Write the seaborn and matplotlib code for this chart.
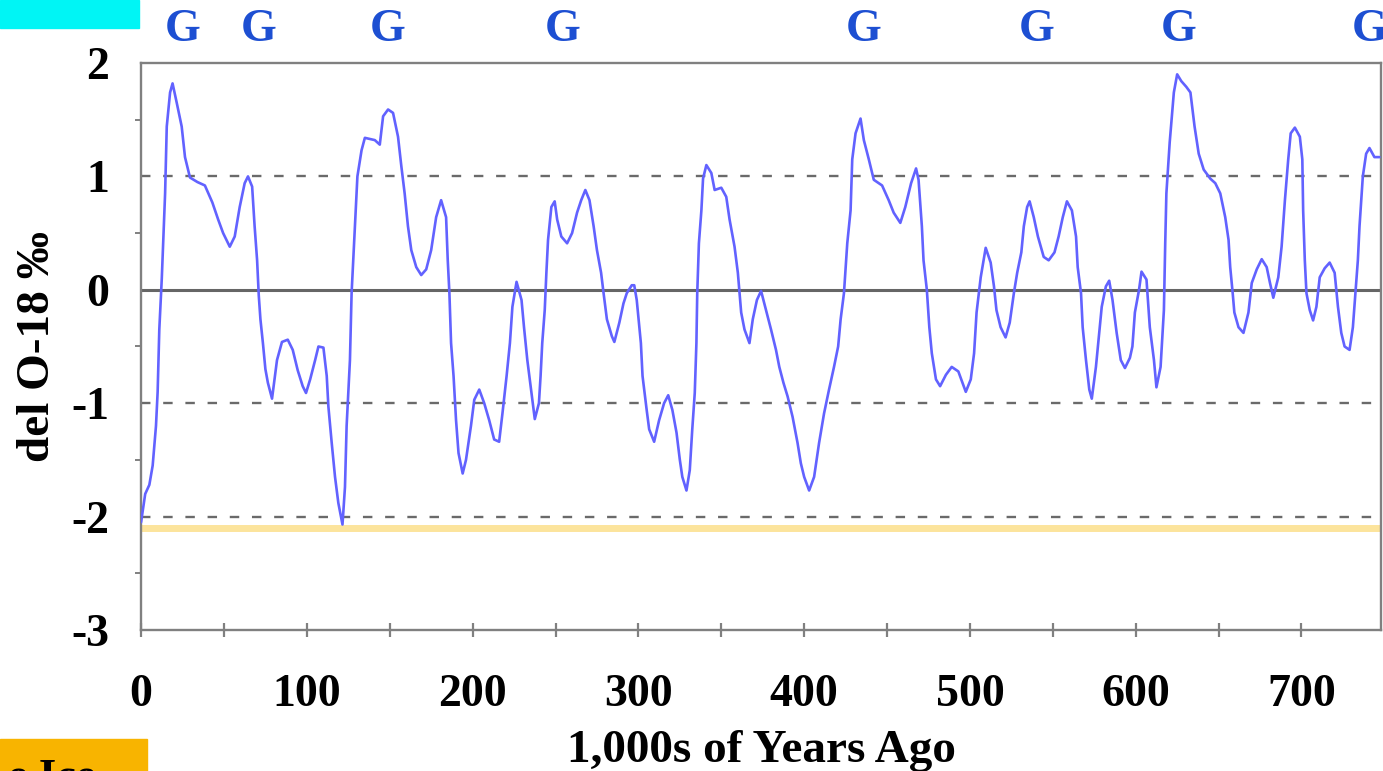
import matplotlib
matplotlib.use("Agg")
import matplotlib.pyplot as plt
import seaborn as sns
import pandas as pd
from matplotlib.patches import Rectangle
from matplotlib.ticker import MultipleLocator, FixedLocator
import matplotlib.transforms as mtransforms

# Datos (miles de años, del O-18)
edad_kyr = [
    0, 2.5, 5, 7, 9, 10, 11, 12.5, 14.5, 15.5, 17.5, 19, 21.5, 24.5, 26.5, 29.5,
    34, 38.5, 43, 46.5, 49.5, 53.5, 56.5, 59.5, 62.5, 64.5, 67, 68.5, 70, 71,
    72, 73.5, 75, 76.5, 79, 82, 85, 88.5, 91.5, 94.5, 97.5, 99.5, 102, 105,
    107, 110, 112, 113, 115, 117, 119, 121.5, 123, 124, 126, 127, 129, 130.5,
    133, 135, 138, 141, 144, 146, 149, 152, 155, 157, 159, 161, 163, 166, 169,
    172, 175, 178, 181, 184, 185, 186, 187, 188.5, 190, 191.5, 194, 196, 199,
    201, 204, 207, 210, 213, 216, 218, 220.5, 222.5, 224, 226.5, 229.5, 231,
    233, 235.5, 237.5, 240, 241, 242, 243.5, 244.5, 245.5, 247.5, 249.5, 251,
    253.5, 257, 260, 263, 265.5, 268, 270.5, 273, 275, 277.5, 279, 281, 284,
    285.5, 288.5, 291, 293, 296, 297.5, 299, 301.5, 302.5, 305, 306.5, 309.5,
    312.5, 315.5, 318, 320.5, 323, 325, 326.5, 329, 331, 332.5, 334, 335,
    335.5, 336.5, 338, 339, 341, 344, 346, 350, 353, 355, 358, 360, 361, 362,
    364, 367, 369, 371.5, 374, 377, 380, 383, 385, 387.5, 390, 393, 396, 398,
    400, 403, 406, 409, 412, 415, 418, 420.5, 422, 424, 426, 428, 429, 431,
    434, 436, 439, 442, 447, 451, 454, 458, 461, 464.5, 467.5, 469, 471, 472,
    474, 475.5, 477, 479.5, 482, 485.5, 489, 493, 497.5, 500.5, 502.5, 504,
    506.5, 509.5, 512.5, 514.5, 516, 518.5, 521.5, 524, 526.5, 528.5, 531,
    532.5, 534.5, 536, 538.5, 541, 544.5, 547.5, 551, 553.5, 556, 558.5,
    561.5, 564, 565, 567, 568, 570, 572, 573.5, 576, 578, 579.5, 582, 584,
    586, 588.5, 591, 593.5, 596.5, 598, 599.5, 602, 603.5, 606.5, 608.5, 611,
    612.5, 615, 617, 617.8, 618.5, 620.5, 623, 625, 627.5, 630.5, 633, 635.5,
    638, 641, 645, 648, 651, 654, 656, 657, 658.5, 659.5, 662, 665, 668, 670,
    673, 676, 679, 681, 683, 686, 688, 690, 692, 693.5, 696, 699, 700.5, 701,
    702, 703, 705, 707, 709, 711, 714, 717, 720, 722, 724, 726, 729, 731,
    732.5, 734, 735, 737, 739, 741, 744, 747,
]
del_o18 = [
    -2.05, -1.8, -1.72, -1.55, -1.2, -0.9, -0.35, 0.1, 0.85, 1.44, 1.74, 1.82,
    1.65, 1.44, 1.17, 0.99, 0.95, 0.92, 0.77, 0.62, 0.5, 0.38, 0.47, 0.73,
    0.94, 1.0, 0.91, 0.56, 0.26, -0.05, -0.26, -0.47, -0.7, -0.82, -0.96,
    -0.62, -0.46, -0.44, -0.53, -0.71, -0.85, -0.91, -0.79, -0.62, -0.5,
    -0.51, -0.76, -1.03, -1.35, -1.65, -1.88, -2.07, -1.74, -1.2, -0.62,
    -0.03, 0.56, 1.0, 1.23, 1.34, 1.33, 1.32, 1.28, 1.53, 1.59, 1.56, 1.35,
    1.09, 0.85, 0.56, 0.35, 0.2, 0.13, 0.18, 0.35, 0.64, 0.79, 0.64, 0.26,
    -0.03, -0.47, -0.76, -1.15, -1.44, -1.62, -1.5, -1.2, -0.97, -0.88, -1.0,
    -1.15, -1.32, -1.34, -1.09, -0.76, -0.47, -0.15, 0.07, -0.09, -0.33,
    -0.62, -0.91, -1.14, -1.0, -0.76, -0.47, -0.18, 0.15, 0.44, 0.73, 0.78,
    0.62, 0.47, 0.41, 0.5, 0.68, 0.79, 0.88, 0.79, 0.56, 0.35, 0.15, -0.03,
    -0.26, -0.41, -0.46, -0.29, -0.12, -0.03, 0.04, 0.04, -0.09, -0.47,
    -0.76, -1.06, -1.23, -1.34, -1.15, -1.0, -0.93, -1.06, -1.26, -1.5,
    -1.65, -1.77, -1.59, -1.23, -0.91, -0.47, -0.03, 0.41, 0.7, 0.98, 1.1,
    1.03, 0.88, 0.9, 0.82, 0.62, 0.38, 0.15, -0.03, -0.2, -0.35, -0.47,
    -0.26, -0.09, -0.01, -0.18, -0.35, -0.53, -0.68, -0.82, -0.94, -1.12,
    -1.35, -1.53, -1.65, -1.77, -1.65, -1.35, -1.09, -0.88, -0.68, -0.5,
    -0.26, -0.03, 0.41, 0.7, 1.15, 1.38, 1.51, 1.32, 1.15, 0.97, 0.92, 0.79,
    0.68, 0.59, 0.73, 0.94, 1.07, 0.97, 0.56, 0.26, 0.0, -0.33, -0.56, -0.79,
    -0.85, -0.75, -0.68, -0.72, -0.9, -0.79, -0.56, -0.2, 0.11, 0.37, 0.24,
    0.03, -0.18, -0.33, -0.42, -0.29, -0.03, 0.15, 0.33, 0.56, 0.73, 0.78,
    0.64, 0.47, 0.29, 0.26, 0.33, 0.47, 0.64, 0.78, 0.7, 0.47, 0.2, -0.03,
    -0.33, -0.62, -0.88, -0.96, -0.68, -0.38, -0.15, 0.03, 0.08, -0.09,
    -0.38, -0.62, -0.69, -0.6, -0.5, -0.2, 0.0, 0.16, 0.09, -0.33, -0.62,
    -0.86, -0.68, -0.18, 0.41, 0.85, 1.3, 1.74, 1.9, 1.84, 1.79, 1.74, 1.44,
    1.2, 1.06, 0.98, 0.94, 0.85, 0.64, 0.44, 0.2, -0.03, -0.2, -0.33, -0.38,
    -0.2, 0.06, 0.18, 0.27, 0.2, 0.06, -0.07, 0.11, 0.38, 0.79, 1.15, 1.38,
    1.43, 1.35, 1.15, 0.7, 0.26, -0.03, -0.18, -0.27, -0.15, 0.11, 0.19,
    0.24, 0.15, -0.15, -0.38, -0.5, -0.53, -0.33, -0.03, 0.26, 0.56, 1.0,
    1.2, 1.25, 1.17, 1.17,
]

# Marcas "G" encima del grafico (miles de años)
g_edades = [25, 71, 149, 254, 436, 540, 626, 741]

y_ticks = [2, 1, 0, -1, -2, -3]
y_discontinuas = [1, -1, -2]
x_ticks = [0, 100, 200, 300, 400, 500, 600, 700]
linea_amarilla = -2.1

df = pd.DataFrame({"edad": edad_kyr, "o18": del_o18})

sns.set_style("white")
plt.rcParams["font.family"] = ["Liberation Serif", "DejaVu Serif"]
plt.rcParams["font.weight"] = "bold"
plt.rcParams["text.color"] = "black"
plt.rcParams["axes.labelcolor"] = "black"
plt.rcParams["xtick.labelcolor"] = "black"
plt.rcParams["ytick.labelcolor"] = "black"

fig = plt.figure(figsize=(13.83, 7.71), dpi=100)
ax = fig.add_axes([0.102, 0.1829, 0.8966, 0.7354])

ax.axhline(linea_amarilla, color="#fce49c", lw=5, zorder=1)
for v in y_discontinuas:
    ax.axhline(v, color="#6a6a6a", lw=1.7, linestyle=(0, (4, 5.4)), zorder=2)
ax.axhline(0, color="#666666", lw=2.2, zorder=2)

sns.lineplot(data=df, x="edad", y="o18", ax=ax, color="#6262ff", lw=1.9,
             estimator=None, sort=False, zorder=3)

ax.set_xlim(0, 748)
ax.set_ylim(-3, 2)
ax.xaxis.set_major_locator(FixedLocator(x_ticks))
ax.xaxis.set_minor_locator(MultipleLocator(50))
ax.yaxis.set_major_locator(FixedLocator(y_ticks))
ax.yaxis.set_minor_locator(MultipleLocator(0.5))
ax.set_xticklabels([str(t) for t in x_ticks])
ax.set_yticklabels([str(t) for t in y_ticks])

for s in ax.spines.values():
    s.set_color("#808080")
    s.set_linewidth(1.7)

ax.tick_params(axis="y", which="major", direction="out", length=10, width=1.6,
               color="#808080", labelsize=33, pad=13)
ax.tick_params(axis="y", which="minor", direction="out", length=4, width=1.4,
               color="#808080", left=True)
ax.tick_params(axis="x", which="both", direction="inout", length=10, width=1.6,
               color="#808080", labelsize=33, pad=27, bottom=True)
for lab in ax.get_xticklabels() + ax.get_yticklabels():
    lab.set_fontweight("bold")

ax.set_xlabel("1,000s of Years Ago", fontsize=34, fontweight="bold")
ax.set_ylabel("del O-18 ‰", fontsize=34, fontweight="bold")
ax.xaxis.set_label_coords(0.5, -0.214)
ax.xaxis.label.set_verticalalignment("center")
ax.yaxis.set_label_coords(-0.083, 0.5)
ax.yaxis.label.set_verticalalignment("center")

trans = mtransforms.blended_transform_factory(ax.transData, ax.transAxes)
for g in g_edades:
    ax.text(g, 1.058, "G", transform=trans, ha="center", va="center",
            fontsize=33, fontweight="bold", color="#1d4fd2", clip_on=False)

# recuadros de color recortados en las esquinas
fig.patches.append(Rectangle((0, 1 - 28 / 771), 139 / 1383, 28 / 771,
                             transform=fig.transFigure, color="#00f5f5"))
fig.patches.append(Rectangle((0, 0), 147 / 1383, 32 / 771,
                             transform=fig.transFigure, color="#f8b400"))
fig.text(8 / 1383, -18 / 771, "e Ice", fontsize=32, color="black",
         va="baseline", ha="left")

fig.savefig("out.png", dpi=100)
